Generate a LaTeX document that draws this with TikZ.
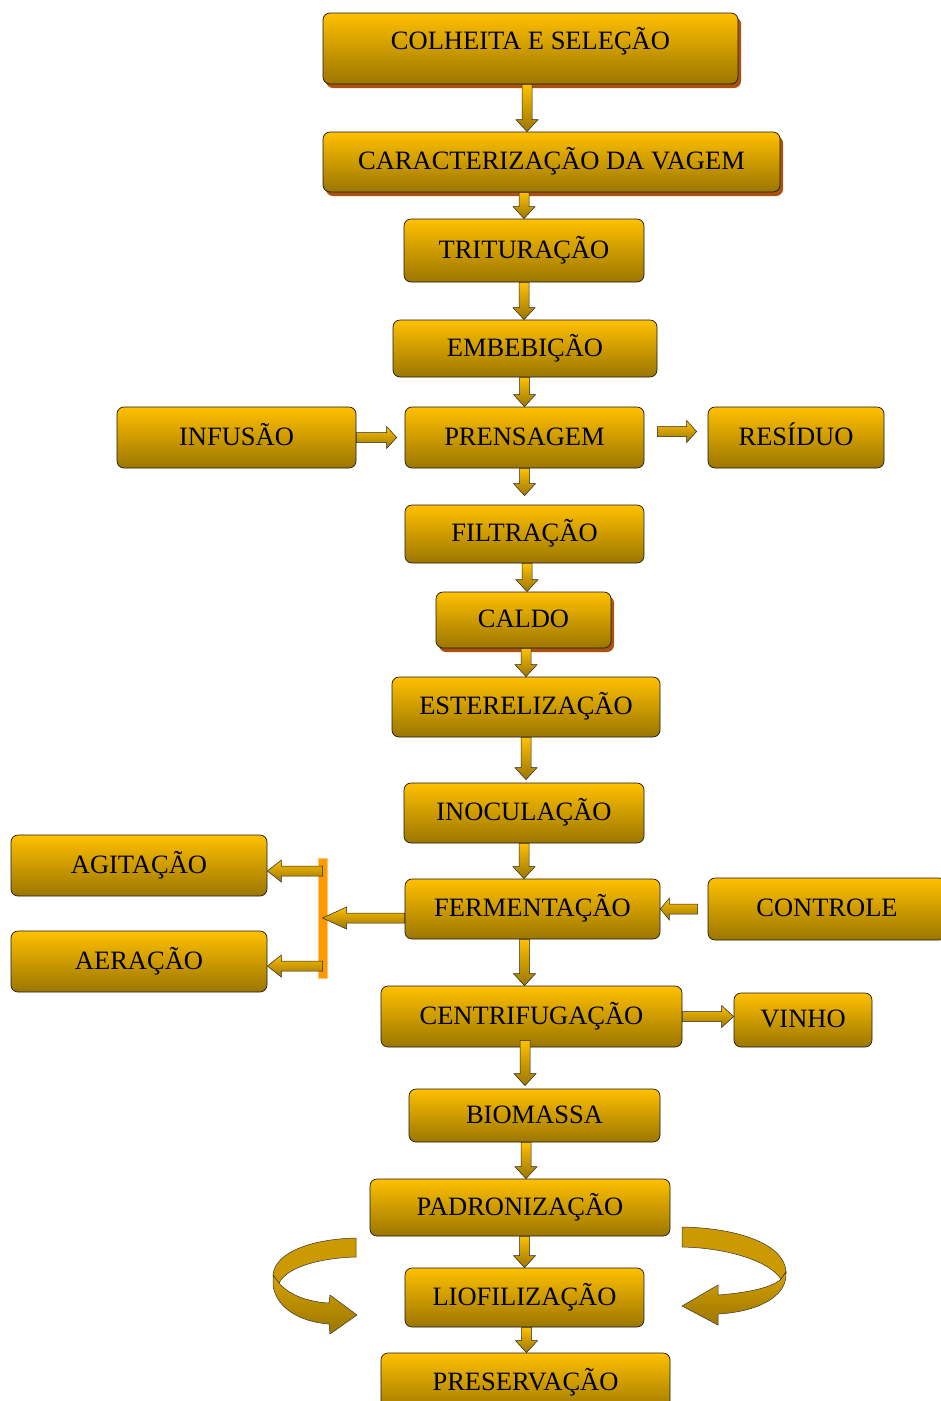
\documentclass[tikz,border=0pt]{standalone}
\usepackage{fontspec}
\setmainfont{Liberation Serif}
\usetikzlibrary{calc,shadows}

\definecolor{goldtop}{RGB}{255,192,0}
\definecolor{goldbot}{RGB}{155,118,0}
\definecolor{goldmid}{RGB}{214,162,0}
\definecolor{goldback}{RGB}{204,154,0}
\definecolor{rust}{RGB}{170,82,14}
\definecolor{forkorange}{RGB}{255,153,0}

\tikzset{
  stage/.style={draw=black!90, line width=0.7pt, rounded corners=7pt, top color=goldtop, bottom color=goldbot,
    inner sep=0pt, text height=18pt, text depth=3pt, font=\fontsize{26.5}{30}\selectfont},
  stageshadow/.style={stage, drop shadow={shadow xshift=3pt, shadow yshift=-4pt, fill=rust, opacity=1}},
  fatarrow/.style={draw=black!85, line width=0.5pt, top color=goldtop, bottom color=goldbot},
  forkbar/.style={fill=forkorange, draw=forkorange!55, line width=0.8pt, inner sep=0pt, minimum width=9pt, minimum height=120pt},
  ribbonback/.style={draw=black!80, line width=0.5pt, fill=goldback},
  ribbonfront/.style={draw=black!80, line width=0.5pt, top color=goldmid, bottom color=goldbot},
}

% block arrow from #2 to #3, head length #1
\newcommand{\fatarrow}[3][12pt]{%
  \coordinate (faA) at (#2);
  \coordinate (faB) at (#3);
  \coordinate (faN) at ($(faB)!#1!(faA)$);
  \path[fatarrow] ($(faA)!5pt!90:(faB)$) -- ($(faN)!5pt!90:(faB)$) -- ($(faN)!11pt!90:(faB)$) -- (faB)
    -- ($(faN)!11pt!-90:(faB)$) -- ($(faN)!5pt!-90:(faB)$) -- ($(faA)!5pt!-90:(faB)$) -- cycle;}

\begin{document}
\begin{tikzpicture}[x=1pt, y=-1pt]
  \useasboundingbox (0,0) rectangle (941,1401);

  % curved arrows round the freeze-drying
  \path[ribbonback] (356,1238) -- (356,1257) .. controls (320,1258) and (287,1267) .. (279,1283)
    -- (273,1275) .. controls (275,1252) and (312,1239) .. (356,1238) -- cycle;
  \path[ribbonfront] (273,1275) -- (279,1283) .. controls (290,1296) and (310,1302) .. (329,1303)
    -- (330,1295) -- (357,1315) -- (330,1334) -- (329,1324) .. controls (300,1322) and (276,1308) .. (273,1285) -- cycle;
  \path[ribbonback] (682,1227) .. controls (740,1228) and (785,1245) .. (786,1272)
    -- (781,1279) .. controls (770,1262) and (730,1248) .. (682,1247) -- cycle;
  \path[ribbonfront] (781,1279) -- (786,1272) .. controls (788,1298) and (755,1312) .. (718,1314)
    -- (718,1325) -- (682,1306) -- (718,1285) -- (718,1295) .. controls (745,1293) and (772,1288) .. (781,1279) -- cycle;

  % stages
  \node[stageshadow, minimum width=415pt, minimum height=71pt, text depth=16pt] (colheita) at (530.5,48.5) {COLHEITA E SELEÇÃO};
  \node[stageshadow, minimum width=457pt, minimum height=60pt] (carac) at (551.5,162) {CARACTERIZAÇÃO DA VAGEM};
  \node[stage, minimum width=240pt, minimum height=63pt] (tritur) at (524,250.5) {TRITURAÇÃO};
  \node[stage, minimum width=264pt, minimum height=57pt] (embeb) at (525,348.5) {EMBEBIÇÃO};
  \node[stage, minimum width=239pt, minimum height=61pt] (prensagem) at (524.5,437.5) {PRENSAGEM};
  \node[stage, minimum width=239pt, minimum height=61pt] (infusao) at (236.5,437.5) {INFUSÃO};
  \node[stage, minimum width=176pt, minimum height=61pt] (residuo) at (796,437.5) {RESÍDUO};
  \node[stage, minimum width=239pt, minimum height=58pt] (filtracao) at (524.5,534) {FILTRAÇÃO};
  \node[stageshadow, minimum width=175pt, minimum height=56pt] (caldo) at (523.5,620) {CALDO};
  \node[stage, minimum width=268pt, minimum height=60pt] (esterel) at (526,707) {ESTERELIZAÇÃO};
  \node[stage, minimum width=240pt, minimum height=60pt] (inocul) at (524,813) {INOCULAÇÃO};
  \node[stage, minimum width=255pt, minimum height=60pt] (ferment) at (532.5,909) {FERMENTAÇÃO};
  \node[stage, minimum width=238pt, minimum height=62pt] (controle) at (827,909) {CONTROLE};
  \node[stage, minimum width=256pt, minimum height=61pt] (agitacao) at (139,865.5) {AGITAÇÃO};
  \node[stage, minimum width=256pt, minimum height=61pt] (aeracao) at (139,961.5) {AERAÇÃO};
  \node[stage, minimum width=301pt, minimum height=61pt] (centrif) at (531.5,1016.5) {CENTRIFUGAÇÃO};
  \node[stage, minimum width=138pt, minimum height=54pt] (vinho) at (803,1020) {VINHO};
  \node[stage, minimum width=251pt, minimum height=53pt] (biomassa) at (534.5,1115.5) {BIOMASSA};
  \node[stage, minimum width=300pt, minimum height=57pt] (padron) at (520,1207.5) {PADRONIZAÇÃO};
  \node[stage, minimum width=239pt, minimum height=59pt] (liofil) at (524.5,1297.5) {LIOFILIZAÇÃO};
  \node[stage, minimum width=289pt, minimum height=60pt] (preserv) at (525.5,1383) {PRESERVAÇÃO};

  \node[forkbar] (fork) at (322.5,918) {};

  % main line
  \fatarrow{$(colheita.south)+(-3.5,0)$}{carac.north -| faA}
  \fatarrow{carac.south -| tritur.north}{tritur.north}
  \fatarrow{tritur.south}{embeb.north -| faA}
  \fatarrow{prensagem.north |- embeb.south}{prensagem.north}
  \fatarrow{prensagem.south}{$(filtracao.north)+(0,-9)$}
  \fatarrow{$(filtracao.south)+(2.5,0)$}{caldo.north -| faA}
  \fatarrow{caldo.south -| esterel.north}{esterel.north}
  \fatarrow{esterel.south}{$(inocul.north -| faA)+(0,-3)$}
  \fatarrow{inocul.south}{ferment.north -| faA}
  \fatarrow{$(ferment.south)+(-8,0)$}{centrif.north -| faA}
  \fatarrow{$(centrif.south)+(-6.5,-7)$}{$(biomassa.north -| faA)+(0,-3)$}
  \fatarrow{$(biomassa.south)+(-8.5,0)$}{padron.north -| faA}
  \fatarrow{liofil.north |- padron.south}{liofil.north}
  \fatarrow{$(liofil.south)+(2,0)$}{preserv.north -| faA}

  % side arrows
  \fatarrow[10pt]{infusao.east}{$(prensagem.west)+(-8,0)$}
  \fatarrow[10pt]{$(prensagem.east)+(13,-6)$}{$(residuo.west)+(-11,-6)$}
  \fatarrow[9pt]{$(controle.west)+(-10,0)$}{ferment.east |- faA}
  \fatarrow{centrif.east}{vinho.west |- faA}
  \fatarrow[24pt]{$(ferment.west)+(0,9)$}{fork.center |- faA}
  \fatarrow[14pt]{$(fork.center |- agitacao.east)+(0,5.5)$}{agitacao.east |- faA}
  \fatarrow[14pt]{$(fork.center |- aeracao.east)+(0,4.5)$}{aeracao.east |- faA}
\end{tikzpicture}
\end{document}
